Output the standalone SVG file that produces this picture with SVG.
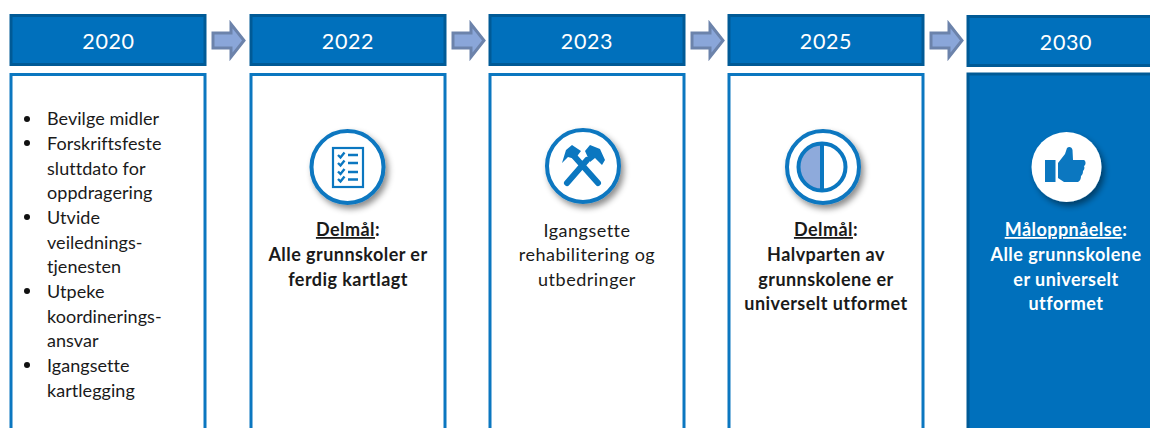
<svg xmlns="http://www.w3.org/2000/svg" width="1150" height="428" viewBox="0 0 1150 428">
<style>
text{font-family:"Lato","Open Sans","Liberation Sans",sans-serif;fill:#1a1a1a;font-size:18px;letter-spacing:.05px}
.h{fill:#0070bc;stroke:#005a96;stroke-width:3}
.b{fill:#fff;stroke:#0b77c0;stroke-width:3}
.y{fill:#fff;font-size:21.500px;text-anchor:middle;letter-spacing:.6px}
.c{text-anchor:middle;letter-spacing:.5px}
.s{font-weight:700;letter-spacing:.45px}
.u{text-decoration:underline}
.a{fill:#8aa6d9;stroke:#6c83ab;stroke-width:3}
.ring{fill:#fff;stroke:#0b77c0;stroke-width:4;filter:url(#sh)}
.ic{fill:#0b77c0}
.t{fill:#fff}
.d{fill:#111}
</style>
<defs>
<filter id="sh" x="-30%" y="-30%" width="170%" height="170%"><feDropShadow dx="3" dy="4" stdDeviation="3" flood-color="#000" flood-opacity=".45"/></filter>
</defs>
<rect width="1150" height="428" fill="#fff"/>
<g id="connectors">
<path class="a" d="M213 33H231V24L244 40.500L231 57V48H213Z"/>
<path class="a" d="M453 33H471V24L484 40.500L471 57V48H453Z"/>
<path class="a" d="M692 33H710V24L723 40.500L710 57V48H692Z"/>
<path class="a" d="M931 33H949V24L962 40.500L949 57V48H931Z"/>
</g>
<g id="col-2020">
<rect class="h" x="11" y="15.500" width="194" height="49"/><text class="y" x="108.500" y="49">2020</text>
<rect class="b" x="11" y="74.500" width="194" height="370"/>
<g>
<circle class="d" cx="27" cy="119" r="3"/><circle class="d" cx="27" cy="143" r="3"/><circle class="d" cx="27" cy="217" r="3"/><circle class="d" cx="27" cy="291" r="3"/><circle class="d" cx="27" cy="365" r="3"/>
<text x="47" y="125">Bevilge midler</text>
<text x="47" y="150">Forskriftsfeste</text>
<text x="47" y="175">sluttdato for</text>
<text x="47" y="199">oppdragering</text>
<text x="47" y="224">Utvide</text>
<text x="47" y="249">veilednings-</text>
<text x="47" y="273">tjenesten</text>
<text x="47" y="298">Utpeke</text>
<text x="47" y="323">koordinerings-</text>
<text x="47" y="347">ansvar</text>
<text x="47" y="372">Igangsette</text>
<text x="47" y="397">kartlegging</text>
</g>
</g>
<g id="col-2022">
<rect class="h" x="251" y="15.500" width="194" height="49"/><text class="y" x="348" y="49">2022</text>
<rect class="b" x="251" y="74.500" width="194" height="370"/>
<circle class="ring" cx="347.500" cy="167" r="36"/>
<rect x="333" y="148" width="30" height="39" fill="none" stroke="#0b77c0" stroke-width="2.200"/>
<path d="M338 155l2.500 2.500 4-5M338 163l2.500 2.500 4-5M338 171.500l2.500 2.500 4-5M338 179l2.500 2.500 4-5" fill="none" stroke="#0b77c0" stroke-width="2.400"/>
<path d="M348 155h10M348 163h10M348 172h10M348 179.500h10" fill="none" stroke="#0b77c0" stroke-width="2.400"/>
<text class="c s" x="348" y="236"><tspan class="u">Delmål</tspan>:</text>
<text class="c s" x="348" y="261">Alle grunnskoler er</text>
<text class="c s" x="348" y="286">ferdig kartlagt</text>
</g>
<g id="col-2023">
<rect class="h" x="490" y="15.500" width="194" height="49"/><text class="y" x="587" y="49">2023</text>
<rect class="b" x="490" y="74.500" width="194" height="370"/>
<circle class="ring" cx="583" cy="166" r="36"/>
<path d="M567 183L587 160M598 183L574 156" stroke="#0b77c0" stroke-width="6" stroke-linecap="round" fill="none"/>
<path class="ic" d="M562 163L566 150L572 145L581 151L575 159L568 157Z"/>
<path class="ic" d="M585 151L590 145L600 149L605 160L602 165L595 158L590 162Z"/>
<text class="c" x="587" y="237">Igangsette</text>
<text class="c" x="587" y="261">rehabilitering og</text>
<text class="c" x="587" y="286">utbedringer</text>
</g>
<g id="col-2025">
<rect class="h" x="729" y="15.500" width="194" height="49"/><text class="y" x="826" y="49">2025</text>
<rect class="b" x="729" y="74.500" width="194" height="370"/>
<circle class="ring" cx="823" cy="167" r="36"/>
<path d="M822 144a23 23 0 0 0 0 46Z" fill="#8eaadb"/>
<circle cx="822" cy="167" r="23.500" fill="none" stroke="#0b77c0" stroke-width="4"/>
<path d="M822 144v46" stroke="#0b77c0" stroke-width="4"/>
<text class="c s" x="826" y="236"><tspan class="u">Delmål</tspan>:</text>
<text class="c s" x="826" y="261">Halvparten av</text>
<text class="c s" x="826" y="286">grunnskolene er</text>
<text class="c s" x="826" y="310">universelt utformet</text>
</g>
<g id="col-2030">
<rect class="h" x="968" y="16.500" width="195" height="49"/><text class="y" x="1066" y="50">2030</text>
<rect class="h" x="968" y="74" width="195" height="370"/>
<circle cx="1066.500" cy="167" r="35" fill="#fff" filter="url(#sh)"/>
<rect class="ic" x="1045" y="160" width="10.500" height="22"/>
<path class="ic" d="M1058 163L1065 154L1067 148C1069 146 1072 147 1072.500 150L1073 160H1084C1086 161 1086 165 1084 166C1085 168 1084 170 1083 171C1083 174 1082 175 1081 176C1081 179 1080 181 1078 182H1064L1058 178Z"/>
<text class="c s t" x="1066" y="236"><tspan class="u">Måloppnåelse</tspan>:</text>
<text class="c s t" x="1066" y="261">Alle grunnskolene</text>
<text class="c s t" x="1066" y="286">er universelt</text>
<text class="c s t" x="1066" y="310">utformet</text>
</g>
</svg>
